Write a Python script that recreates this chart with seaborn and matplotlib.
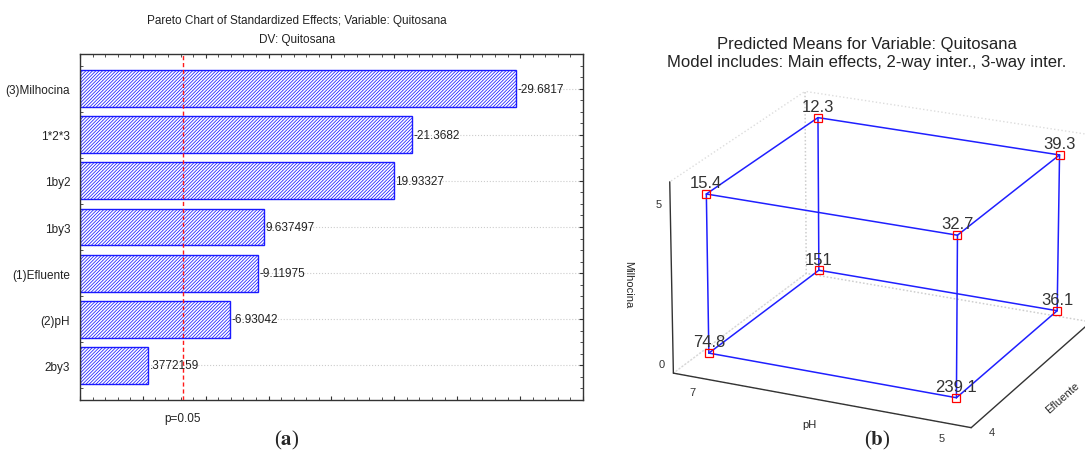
import itertools
import matplotlib
matplotlib.use('Agg')
import matplotlib.pyplot as plt
import seaborn as sns
import numpy as np
import pandas as pd
from matplotlib.ticker import MultipleLocator

# Pareto chart data (standardized effects)
effects = ['(3)Milhocina', '1*2*3', '1by2', '1by3', '(1)Efluente', '(2)pH', '2by3']
t_values = [-29.6817, -21.3682, 19.93327, 9.637497, -9.11975, -6.93042, 0.3772159]
t_labels = ['-29.6817', '-21.3682', '19.93327', '9.637497', '-9.11975', '-6.93042', '.3772159']
p_crit = 3.182446

# cube plot data (predicted means)
cube_ph = [7, 5, 7, 5, 7, 5, 7, 5]
cube_eff = [4, 4, 8, 8, 4, 4, 8, 8]
cube_mil = [0, 0, 0, 0, 5, 5, 5, 5]
cube_means = [74.8, 239.1, 151, 36.1, 15.4, 32.7, 12.3, 39.3]

sns.set_style('ticks')
plt.rcParams['font.family'] = ['Liberation Sans', 'DejaVu Sans']
plt.rcParams['mathtext.fontset'] = 'stix'
plt.rcParams['hatch.color'] = '#3a3aff'
plt.rcParams['hatch.linewidth'] = 0.55

fig = plt.figure(figsize=(10.85, 4.6), dpi=100)

# ---------- (a) pareto ----------
ax = fig.add_axes([0.0737, 0.1283, 0.4636, 0.752])
x_min, x_max = -5, 35
df = pd.DataFrame({'effect': effects, 'abs_t': np.abs(t_values)})
df['length'] = df['abs_t'] - x_min
sns.barplot(data=df, x='length', y='effect', ax=ax, color='white', width=0.8,
            left=x_min, edgecolor='#1a1aff', linewidth=1, hatch='//////////', zorder=2)
for i, (v, lbl) in enumerate(zip(df['abs_t'], t_labels)):
    ax.text(v + 0.15, i, lbl, va='center', ha='left', fontsize=8.5, color='#222222', zorder=4)
ax.axvline(p_crit, color='#ff1a1a', ls=(0, (3, 2)), lw=1, zorder=3)
ax.text(p_crit, -0.035, 'p=0.05', transform=ax.get_xaxis_transform(), ha='center', va='top',
        fontsize=8.5, color='#222222')
ax.grid(axis='y', color='#cccccc', ls=':', lw=0.8)
ax.set_axisbelow(True)
ax.set_xlim(x_min, x_max)
ax.set_ylim(6.75, -0.75)
ax.xaxis.set_major_locator(MultipleLocator(5))
ax.xaxis.set_minor_locator(MultipleLocator(1))
ax.yaxis.set_minor_locator(MultipleLocator(0.25))
ax.tick_params(axis='x', which='both', direction='in', top=True, bottom=True, labelbottom=False,
               color='#333333')
ax.tick_params(axis='y', which='both', direction='in', left=True, right=True, labelsize=8.5,
               pad=7, color='#333333', labelcolor='#222222')
ax.tick_params(which='major', length=3)
ax.tick_params(which='minor', length=2)
for s in ax.spines.values():
    s.set_color('#333333')
    s.set_linewidth(1)
ax.set_xlabel('')
ax.set_ylabel('')
fig.text(297 / 1085, 1 - 21 / 460, 'Pareto Chart of Standardized Effects; Variable: Quitosana',
         ha='center', va='center', fontsize=8.5, color='#222222')
fig.text(297 / 1085, 1 - 40 / 460, 'DV: Quitosana', ha='center', va='center', fontsize=8.5,
         color='#222222')

# ---------- (b) cube ----------
ax3 = fig.add_axes([0.5708, 0.0, 0.48, 0.87], projection='3d', proj_type='persp',
                   focal_length=2, computed_zorder=False)
ax3.view_init(elev=21, azim=-65)
ax3.set_box_aspect((1.6, 1.49, 1), zoom=1.18)
for a, b in itertools.combinations(range(len(cube_means)), 2):
    diff = (cube_ph[a] != cube_ph[b]) + (cube_eff[a] != cube_eff[b]) + (cube_mil[a] != cube_mil[b])
    if diff == 1:
        ax3.plot([cube_ph[a], cube_ph[b]], [cube_eff[a], cube_eff[b]], [cube_mil[a], cube_mil[b]],
                 color='#1f1fff', lw=1.1, zorder=2)
ax3.plot(cube_ph, cube_eff, cube_mil, ls='none', marker='s', mfc='none', mec='red', ms=6,
         mew=0.9, zorder=3)
for x, y, z, m in zip(cube_ph, cube_eff, cube_mil, cube_means):
    ax3.text(x, y, z + 0.12, f'{m:g}', ha='center', va='bottom', fontsize=12, color='#333333',
             zorder=4)
ax3.set_xlim(7.2, 4.8)
ax3.set_ylim(3.6, 8.4)
ax3.set_zlim(-0.5, 5.5)
ax3.set_xticks([5, 7])
ax3.set_yticks([4, 8])
ax3.set_zticks([0, 5])
ax3.tick_params(labelsize=8, colors='#333333')
ax3.tick_params(axis='x', pad=-3)
ax3.tick_params(axis='y', pad=-3)
ax3.tick_params(axis='z', pad=-4)
ax3.grid(False)
for axis in (ax3.xaxis, ax3.yaxis, ax3.zaxis):
    axis.pane.fill = False
    axis.pane.set_edgecolor('#bbbbbb')
    axis.pane.set_linestyle(':')
    axis.line.set_color('#333333')
    axis.line.set_linewidth(1)
    axis._axinfo['tick']['inward_factor'] = 0
    axis._axinfo['tick']['outward_factor'] = 0
ax3.zaxis.set_ticks_position('lower')
ax3.zaxis.set_label_position('lower')
ax3.set_xlabel('pH', fontsize=8, labelpad=-9)
ax3.set_ylabel('Efluente', fontsize=8, labelpad=-6)
ax3.zaxis.set_rotate_label(False)
ax3.set_zlabel('Milhocina', fontsize=8, rotation=-90, labelpad=-6)
fig.text(867 / 1085, 1 - 45 / 460, 'Predicted Means for Variable: Quitosana', ha='center',
         va='center', fontsize=12, color='#222222')
fig.text(867 / 1085, 1 - 63 / 460, 'Model includes: Main effects, 2-way inter., 3-way inter.',
         ha='center', va='center', fontsize=12, color='#222222')

# panel letters
fig.text(287 / 1085, 1 - 440 / 460, r'($\mathbf{a}$)', ha='center', va='center', fontsize=15,
         family='Liberation Serif')
fig.text(877 / 1085, 1 - 440 / 460, r'($\mathbf{b}$)', ha='center', va='center', fontsize=15,
         family='Liberation Serif')

fig.savefig('out.png', dpi=100)
